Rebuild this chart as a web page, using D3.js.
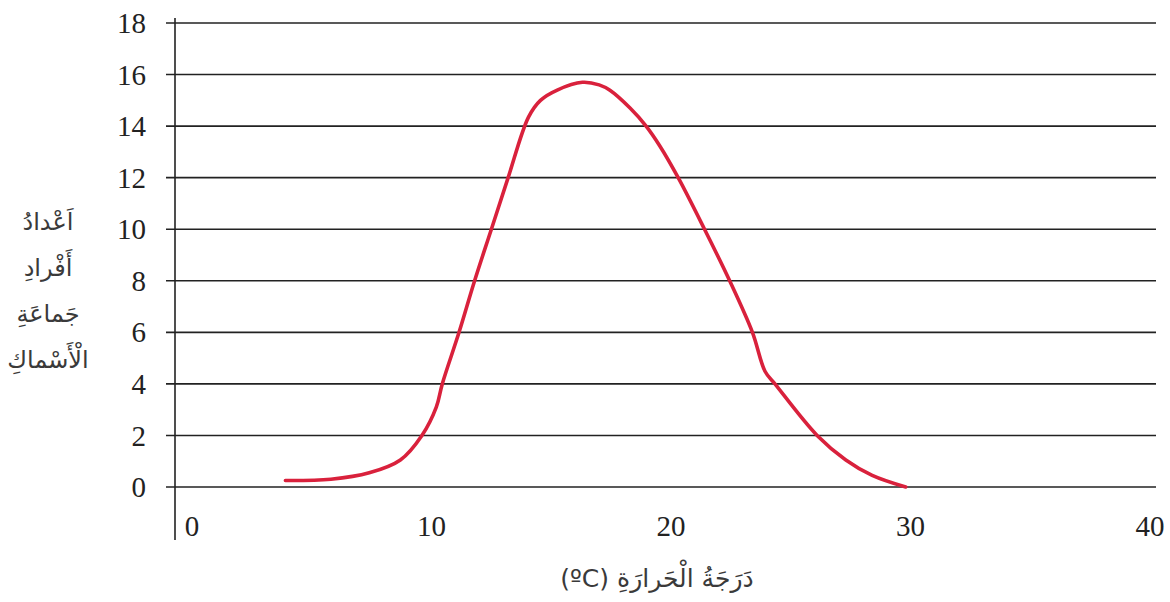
<!DOCTYPE html>
<html>
<head>
<meta charset="utf-8">
<script src="https://cdn.jsdelivr.net/npm/d3@7"></script>
<style>
    body { margin: 0; background: #fff; }
    .tick-label { font-family: "Liberation Serif", "Times New Roman", Times, serif; font-size: 29px; fill: #222; }
    .ar-label { font-family: "DejaVu Sans", sans-serif; font-size: 24px; fill: #3a3a3a; }
</style>
</head>
<body>
<div id="chart"></div>
<script>
// x values (temperature, °C) of the curve
let temps = [3.9, 5.8, 7.4, 8.7, 9.6, 10.2, 10.45, 11.15, 11.8, 12.5, 13.2, 14.05, 14.55, 15.25, 16.3,
    17.0, 17.45, 18.29, 18.96, 19.54, 20.3, 21.4, 22.45, 23.4, 23.93, 24.34, 26.1, 27.3, 28.4, 29.8];
// y values (number of fish) of the curve
let counts = [0.25, 0.3, 0.55, 1.05, 2.0, 3.1, 4.0, 6.0, 8.0, 10.0, 12.0, 14.35, 15.0, 15.4, 15.7,
    15.6, 15.39, 14.7, 14.0, 13.22, 12.0, 10.0, 8.0, 6.0, 4.48, 4.0, 2.0, 1.05, 0.45, 0.0];

let xTicks = [0, 10, 20, 30, 40];
let yTicks = [0, 2, 4, 6, 8, 10, 12, 14, 16, 18];
let yLabelLines = ["اَعْدادُ", "أَفْرادِ", "جَماعَةِ", "الْأَسْماكِ"];
let xTitle = "دَرَجَةُ الْحَرارَةِ (ºC)";

let width = 1170, height = 602;

let svg = d3.select("#chart").append("svg")
    .attr("width", width)
    .attr("height", height);

// scales
let x = d3.scaleLinear().domain([0, 40]).range([192, 1150]);
let y = d3.scaleLinear().domain([0, 18]).range([487, 23]);

let axisX = 175;

// horizontal gridlines (incl. x axis at 0)
svg.append("g")
    .selectAll("line")
    .data(yTicks)
    .enter().append("line")
    .attr("x1", axisX - 9)
    .attr("x2", 1156)
    .attr("y1", d => y(d))
    .attr("y2", d => y(d))
    .attr("stroke", "#222")
    .attr("stroke-width", 1.6);

// vertical axis line
svg.append("line")
    .attr("x1", axisX).attr("x2", axisX)
    .attr("y1", y(18) - 5).attr("y2", 540)
    .attr("stroke", "#222")
    .attr("stroke-width", 1.6);

// y tick labels
svg.append("g")
    .selectAll("text")
    .data(yTicks)
    .enter().append("text")
    .attr("class", "tick-label")
    .attr("x", 146)
    .attr("y", d => y(d))
    .attr("dy", "0.35em")
    .attr("text-anchor", "end")
    .text(d => d);

// x tick labels
svg.append("g")
    .selectAll("text")
    .data(xTicks)
    .enter().append("text")
    .attr("class", "tick-label")
    .attr("x", d => x(d))
    .attr("y", 526)
    .attr("dy", "0.35em")
    .attr("text-anchor", "middle")
    .text(d => d);

// curve
let points = temps.map((t, i) => [t, counts[i]]);
let line = d3.line()
    .x(d => x(d[0]))
    .y(d => y(d[1]))
    .curve(d3.curveCatmullRom.alpha(0.5));

svg.append("path")
    .datum(points)
    .attr("d", line)
    .attr("fill", "none")
    .attr("stroke", "#d9213c")
    .attr("stroke-width", 3.6)
    .attr("stroke-linecap", "round");

// y axis title (Arabic, 4 lines)
svg.append("g")
    .selectAll("text")
    .data(yLabelLines)
    .enter().append("text")
    .attr("class", "ar-label")
    .attr("x", 48)
    .attr("y", (d, i) => 222 + i * 46)
    .attr("dy", "0.35em")
    .attr("text-anchor", "middle")
    .attr("direction", "rtl")
    .text(d => d);

// x axis title
svg.append("text")
    .attr("class", "ar-label")
    .attr("x", 657)
    .attr("y", 578)
    .attr("dy", "0.35em")
    .attr("text-anchor", "middle")
    .attr("direction", "rtl")
    .style("unicode-bidi", "embed")
    .style("font-size", "25px")
    .text(xTitle);
</script>
</body>
</html>
